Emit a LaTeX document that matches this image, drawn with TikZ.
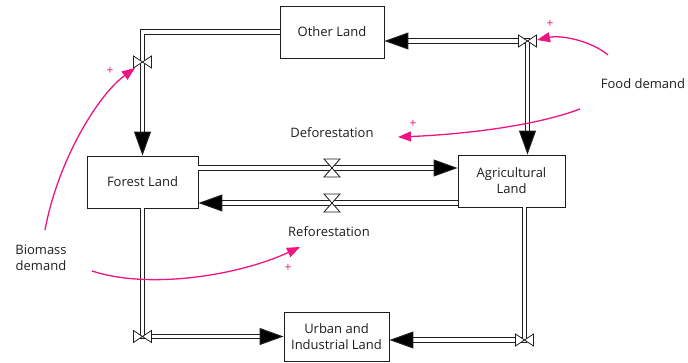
\documentclass[tikz,border=0pt]{standalone}
\usepackage{fontspec}
\setmainfont{Open Sans}
\usetikzlibrary{positioning, arrows.meta, calc}
\definecolor{linkpink}{RGB}{240,20,130}
\definecolor{inkgray}{RGB}{30,30,30}

\begin{document}
\begin{tikzpicture}[x=1pt, y=-1pt,
  stock/.style={rectangle, draw=inkgray, line width=0.9pt, fill=white, align=center, inner sep=2pt, font=\fontsize{13}{16}\selectfont, text=inkgray},
  pipe/.style={draw=inkgray, double=white, double distance=3.6pt, line width=1pt},
  flowtip/.style={-{Triangle[length=24pt, width=17pt, fill=black]}},
  bothtips/.style={{Triangle[length=24pt, width=17pt, fill=black]}-{Triangle[length=24pt, width=17pt, fill=black]}},
  valve/.style={draw=inkgray, fill=white, line width=0.8pt},
  link/.style={draw=linkpink, line width=1.3pt, -{Triangle[length=13pt, width=10pt]}},
  sign/.style={text=linkpink, font=\fontsize{12}{12}\selectfont, inner sep=0pt},
  lbl/.style={font=\fontsize{13}{16}\selectfont, text=inkgray, align=center},
  valveh/.pic={\draw[valve] (-9,-6) -- (9,6) -- (9,-6) -- (-9,6) -- cycle;},
  valvev/.pic={\draw[valve] (-8,-9) -- (8,9) -- (-8,9) -- (8,-9) -- cycle;}
]
  \useasboundingbox (0,0) rectangle (688,363);

  % stocks
  \node[stock, minimum width=104pt, minimum height=52pt] (other) at (332,32) {Other Land};
  \node[stock, minimum width=111pt, minimum height=52pt] (forest) at (142.5,182) {Forest Land};
  \node[stock, minimum width=107pt, minimum height=52pt] (agri) at (511.5,181) {Agricultural\\Land};
  \node[stock, minimum width=105pt, minimum height=49pt] (urban) at (336.5,336.5) {Urban and\\Industrial Land};

  % labels
  \node[lbl] (deflbl) at (332,133) {Deforestation};
  \node[lbl] (reflbl) at (329,232) {Reforestation};
  \node[lbl] (biomass) at (41,258) {Biomass\\demand};
  \node[lbl] (food) at (643,84) {Food demand};

  % pipe ends
  \coordinate (v1) at (forest.north |- 0,62);
  \coordinate (agriout) at ($(agri.north)+(16,0)$);
  \coordinate (v2) at (agriout |- 0,41);
  \coordinate (defstart) at ($(forest.east)+(0,-14)$);
  \coordinate (refstart) at ($(agri.west)+(0,22)$);
  \coordinate (v5) at (forest.south |- urban.west);
  \coordinate (agriin) at ($(agri.south)+(13,0)$);
  \coordinate (v6) at (agriin |- 0,340);

  % flows
  \draw[pipe, flowtip] (other.west) -| (forest.north);
  \draw[pipe, bothtips] (other.east |- v2) -- (v2) -- (agriout);
  \draw[pipe, flowtip] (defstart) -- (defstart -| agri.west);
  \draw[pipe, flowtip] (refstart) -- (refstart -| forest.east);
  \draw[pipe, flowtip] (forest.south) |- (urban.west);
  \draw[pipe, flowtip] (agriin) |- (urban.east |- v6);

  % valves
  \pic at (v1) {valveh};
  \pic at (v2) {valveh};
  \pic at (defstart -| other) {valvev};
  \pic at (refstart -| other) {valvev};
  \pic at (v5) {valveh};
  \pic at (v6) {valveh};

  % links
  \draw[link] (45,230) .. controls (58,160) and (98,95) .. (135,68);
  \node[sign] (s1) at (110,71) {+};
  \draw[link] (92,271) .. controls (150,290) and (240,275) .. (300,247);
  \node[sign] (s2) at (288,268) {+};
  \draw[link] (608,55) .. controls (590,40) and (560,35) .. (537,40);
  \node[sign] (s3) at (550,24) {+};
  \draw[link] (580,109) .. controls (530,128) and (450,135) .. (398,137);
  \node[sign] (s4) at (413,124) {+};
\end{tikzpicture}
\end{document}
